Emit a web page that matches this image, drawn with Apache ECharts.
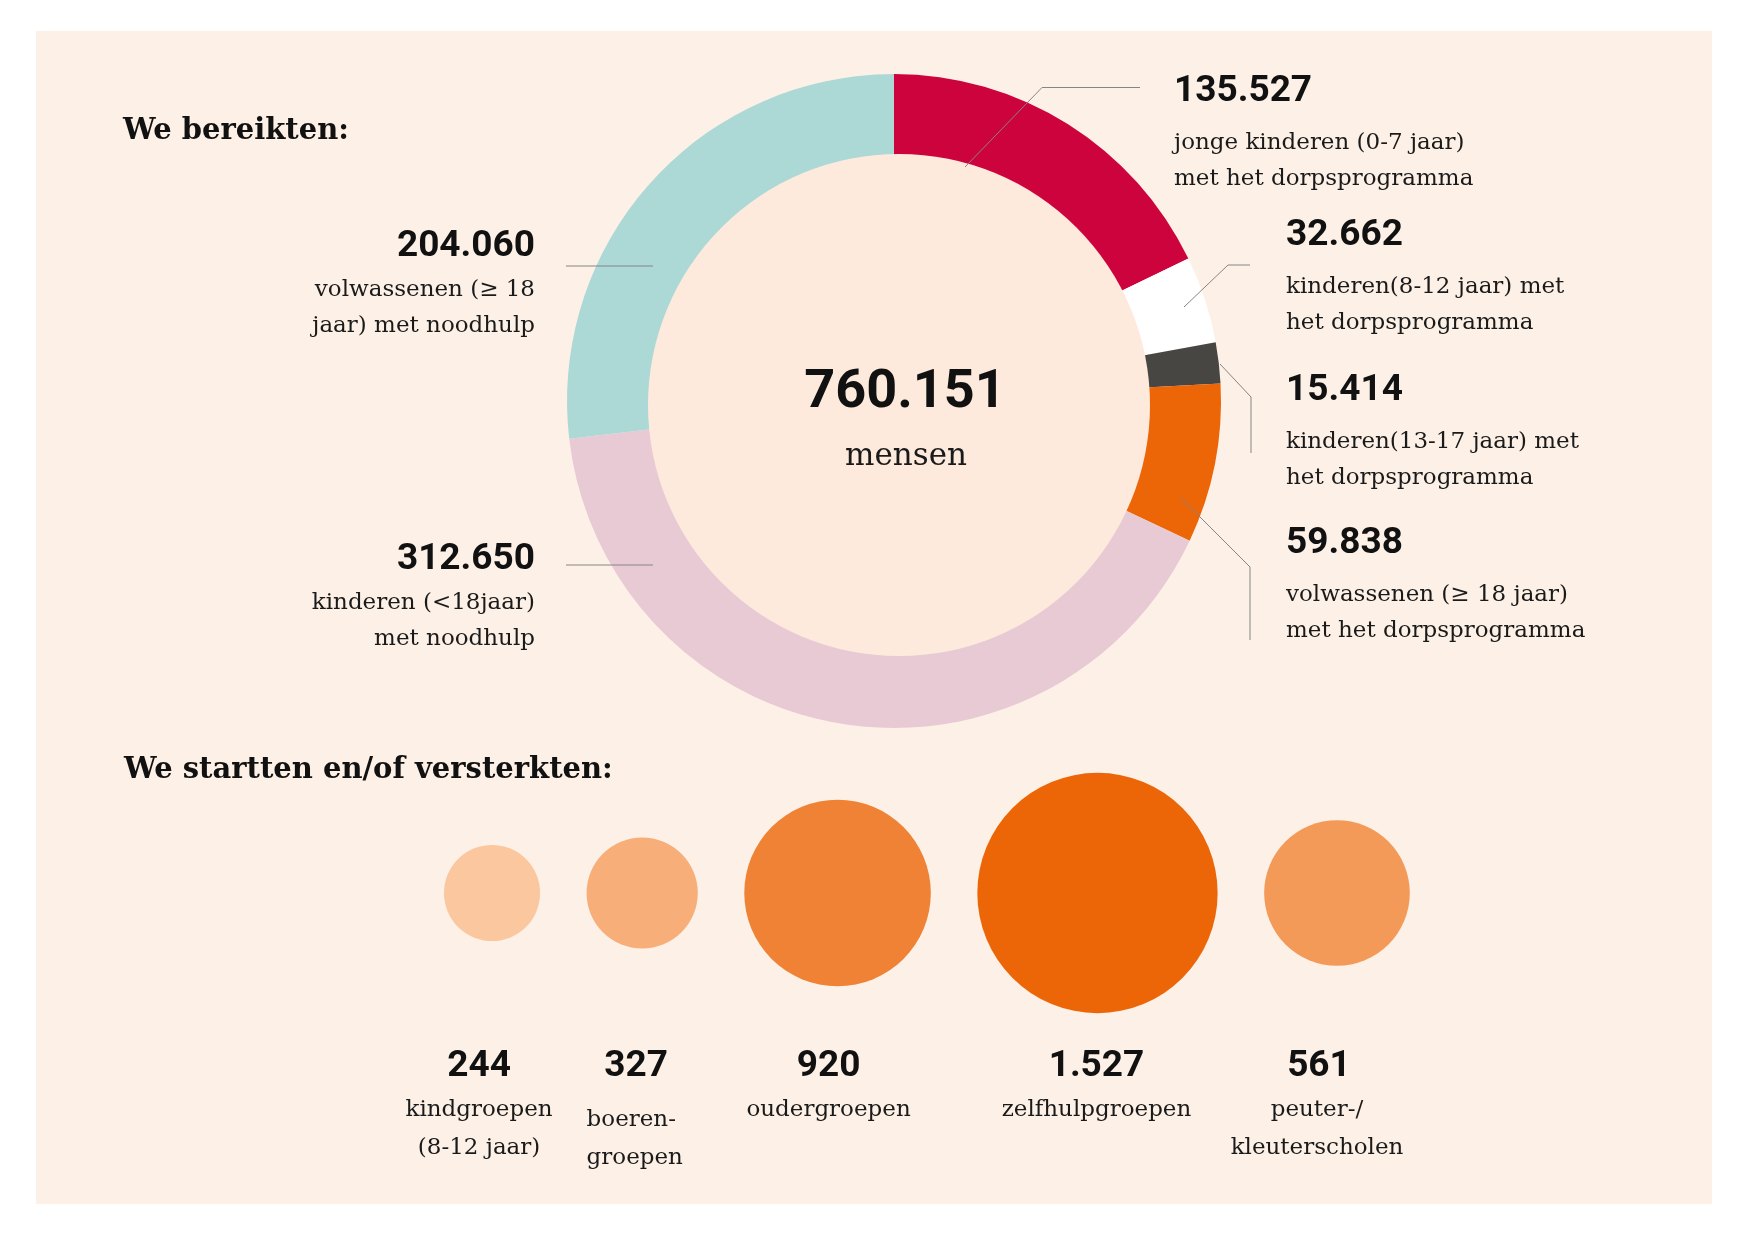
<!DOCTYPE html>
<html>
<head>
<meta charset="utf-8">
<script src="https://cdn.jsdelivr.net/npm/echarts@6/dist/echarts.min.js"></script>
<style>
  html, body { margin: 0; padding: 0; background: #ffffff; }
  #main { width: 1748px; height: 1240px; }
</style>
</head>
<body>
<div id="main"></div>
<script>
// donut: bereikte mensen
var donutNames = [
    'jonge kinderen (0-7 jaar)\nmet het dorpsprogramma',
    'kinderen(8-12 jaar) met\nhet dorpsprogramma',
    'kinderen(13-17 jaar) met\nhet dorpsprogramma',
    'volwassenen (≥ 18 jaar)\nmet het dorpsprogramma',
    'kinderen (<18jaar)\nmet noodhulp',
    'volwassenen (≥ 18\njaar) met noodhulp'
];
var donutValues = [135527, 32662, 15414, 59838, 312650, 204060];
var donutColors = ['#cd033e', '#ffffff', '#484643', '#ec6608', '#e7cad4', '#acd9d6'];

// bubbels: gestarte/versterkte groepen
var groupNames = ['kindgroepen\n(8-12 jaar)', 'boeren-\ngroepen', 'oudergroepen', 'zelfhulpgroepen', 'peuter-/\nkleuterscholen'];
var groupValues = [244, 327, 920, 1527, 561];
var groupColors = ['#fbc79f', '#f7ae79', '#ef8235', '#ec6608', '#f39a58'];

function fmt(v) {
    return String(v).replace(/\B(?=(\d{3})+(?!\d))/g, '.');
}

var serif = '"DejaVu Serif", serif';
var sans = 'Roboto, "Noto Sans", sans-serif';

var total = 0;
for (var i = 0; i < donutValues.length; i++) total += donutValues[i];

// label placement around the donut (left-aligned right side, right-aligned left side)
var spots = [
    {x: 1174, y: 59, align: 'left', line: [[965, 167], [1042, 87.5], [1140, 87.5]]},
    {x: 1286, y: 203, align: 'left', line: [[1184, 307], [1228, 265], [1250, 265]]},
    {x: 1286, y: 358, align: 'left', line: [[1220, 364], [1251, 397], [1251, 453]]},
    {x: 1286, y: 511, align: 'left', line: [[1181, 498], [1250, 567], [1250, 640]]},
    {x: 535, y: 535, align: 'right', line: [[653, 565], [566, 565]]},
    {x: 535, y: 222, align: 'right', line: [[653, 266], [566, 266]]}
];

// bubble row: circle area ~ value, fixed gap between circles
var k = 6.15;
var gap = 46.5 / k;
var xs = [];
var acc = 0;
for (var j = 0; j < groupValues.length; j++) {
    var r = Math.sqrt(groupValues[j]) / 2;
    if (j > 0) acc += gap;
    acc += r;
    xs.push(acc);
    acc += r;
}
var numDx = [-13, -6, -9, -1, -18];
var nameDx = [-13, 0, -9, -1, -20];

var graphics = [
    {type: 'rect', shape: {x: 36, y: 31, width: 1676, height: 1173}, style: {fill: '#fdf1e7'}, z: -10},
    // inner disc sits slightly off-centre, like the original
    {type: 'circle', shape: {cx: 899, cy: 405, r: 251}, style: {fill: '#fdeadc'}, z: 5},
    {type: 'text', x: 123, y: 131, style: {text: 'We bereikten:', font: 'bold 29px ' + serif, fill: '#111', align: 'left', verticalAlign: 'middle'}},
    {type: 'text', x: 124, y: 770, style: {text: 'We startten en/of versterkten:', font: 'bold 29px ' + serif, fill: '#111', align: 'left', verticalAlign: 'middle'}},
    {type: 'text', x: 905, y: 393, style: {text: fmt(total), font: 'bold 54px ' + sans, fill: '#111', align: 'center', verticalAlign: 'middle'}, z: 10},
    {type: 'text', x: 906, y: 457, style: {text: 'mensen', font: '31px ' + serif, fill: '#1a1a1a', align: 'center', verticalAlign: 'middle'}, z: 10}
];
// leader lines are drawn over the ring
spots.forEach(function (s) {
    graphics.push({type: 'polyline', shape: {points: s.line}, style: {stroke: '#858585', lineWidth: 1, fill: null}, z: 20, silent: true});
});

var dom = document.getElementById('main');
var myChart = echarts.init(dom);
var option = {
    animation: false,
    backgroundColor: '#ffffff',
    graphic: graphics,
    grid: {left: 444, top: 793, width: acc * k, height: 200},
    xAxis: {type: 'value', min: 0, max: acc, show: false},
    yAxis: {type: 'category', data: ['groepen'], show: false},
    series: [
        {
            name: 'bereikt',
            type: 'pie',
            center: [894, 401],
            radius: [238, 327],
            startAngle: 90,
            clockwise: true,
            avoidLabelOverlap: false,
            silent: true,
            emphasis: {disabled: true},
            data: donutValues.map(function (v, i) {
                return {value: v, name: donutNames[i], itemStyle: {color: donutColors[i]}};
            }),
            label: {
                show: true,
                position: 'outside',
                formatter: function (p) {
                    var side = p.dataIndex >= 4 ? 'nl' : 'nr';
                    return '{' + side + '|' + fmt(p.value) + '}\n{t|' + p.name.split('\n').join('}\n{t|') + '}';
                },
                rich: {
                    nr: {fontFamily: sans, fontWeight: 'bold', fontSize: 37, lineHeight: 66, color: '#111'},
                    nl: {fontFamily: sans, fontWeight: 'bold', fontSize: 37, lineHeight: 50, color: '#111'},
                    t: {fontFamily: serif, fontSize: 23, lineHeight: 36, color: '#1a1a1a'}
                }
            },
            labelLine: {show: false},
            labelLayout: function (params) {
                var s = spots[params.dataIndex];
                return {x: s.x, y: s.y, align: s.align, verticalAlign: 'top'};
            }
        },
        {
            name: 'groepen',
            type: 'scatter',
            silent: true,
            symbolSize: function (val, p) {
                return Math.sqrt(groupValues[p.dataIndex]) * k;
            },
            itemStyle: {opacity: 1},
            data: groupValues.map(function (v, i) {
                return {
                    value: [xs[i], 0],
                    itemStyle: {color: groupColors[i], opacity: 1},
                    label: {offset: [numDx[i], 174]}
                };
            }),
            label: {
                show: true,
                position: 'inside',
                align: 'center',
                verticalAlign: 'middle',
                formatter: function (p) { return fmt(groupValues[p.dataIndex]); },
                fontFamily: sans,
                fontWeight: 'bold',
                fontSize: 37,
                color: '#111',
                opacity: 1
            }
        },
        {
            name: 'namen',
            type: 'scatter',
            silent: true,
            symbolSize: 0,
            itemStyle: {opacity: 1},
            data: groupValues.map(function (v, i) {
                var lab = {offset: [nameDx[i], 198]};
                if (i === 1) {
                    lab = {align: 'left', offset: [-Math.sqrt(v) * k / 2, 208]};
                }
                return {value: [xs[i], 0], label: lab};
            }),
            label: {
                show: true,
                position: 'inside',
                align: 'center',
                verticalAlign: 'top',
                formatter: function (p) { return groupNames[p.dataIndex]; },
                fontFamily: serif,
                fontSize: 23,
                lineHeight: 38,
                color: '#1a1a1a',
                opacity: 1
            }
        }
    ]
};
myChart.setOption(option);
</script>
</body>
</html>
